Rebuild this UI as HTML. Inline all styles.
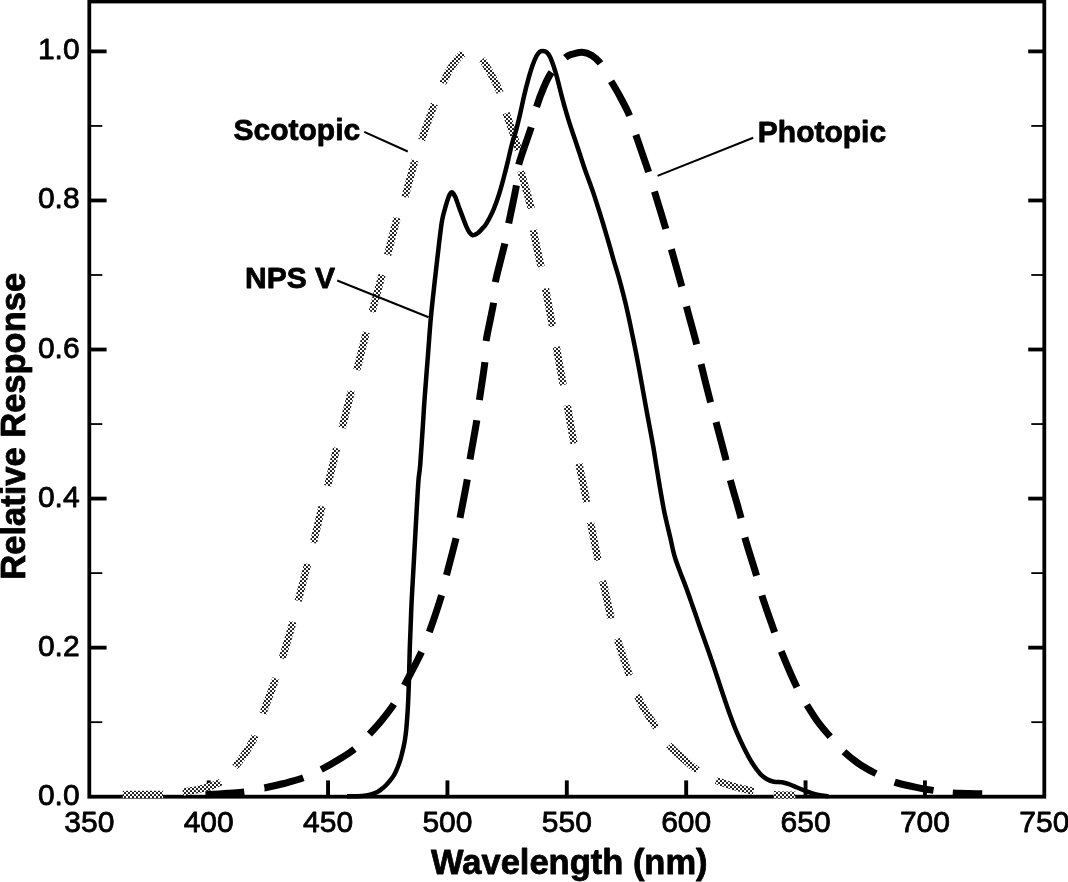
<!DOCTYPE html>
<html><head><meta charset="utf-8"><title>Relative Response vs Wavelength</title>
<style>
html,body{margin:0;padding:0;background:#fff;}
body{width:1068px;height:882px;overflow:hidden;}
svg{display:block;filter:grayscale(1);}
text{font-family:"Liberation Sans",sans-serif;fill:#000;stroke:#000;stroke-width:0.8px;stroke-linejoin:round;}
.tick{font-size:30px;}
.b{font-weight:bold;}
</style></head>
<body>
<svg width="1068" height="882" viewBox="0 0 1068 882">
<defs>
<pattern id="chk" x="0" y="0" width="4" height="4" patternUnits="userSpaceOnUse">
<rect width="4" height="4" fill="#fff"/><rect x="0.05" y="0.05" width="1.9" height="1.9" rx="0.35" fill="#000"/><rect x="2.05" y="2.05" width="1.9" height="1.9" rx="0.35" fill="#000"/>
</pattern>
</defs>
<rect width="1068" height="882" fill="#fff"/>
<g stroke="#000" fill="none">
<rect x="89.3" y="1.5" width="955.0" height="795.2" stroke-width="3.8"/>
<line x1="89.30" y1="722.17" x2="102.30" y2="722.17" stroke-width="1.80"/>
<line x1="1044.30" y1="722.17" x2="1031.30" y2="722.17" stroke-width="1.80"/>
<line x1="89.30" y1="647.64" x2="106.60" y2="647.64" stroke-width="3.80"/>
<line x1="1044.30" y1="647.64" x2="1028.20" y2="647.64" stroke-width="3.80"/>
<line x1="89.30" y1="573.11" x2="102.30" y2="573.11" stroke-width="1.80"/>
<line x1="1044.30" y1="573.11" x2="1031.30" y2="573.11" stroke-width="1.80"/>
<line x1="89.30" y1="498.58" x2="106.60" y2="498.58" stroke-width="3.80"/>
<line x1="1044.30" y1="498.58" x2="1028.20" y2="498.58" stroke-width="3.80"/>
<line x1="89.30" y1="424.05" x2="102.30" y2="424.05" stroke-width="1.80"/>
<line x1="1044.30" y1="424.05" x2="1031.30" y2="424.05" stroke-width="1.80"/>
<line x1="89.30" y1="349.52" x2="106.60" y2="349.52" stroke-width="3.80"/>
<line x1="1044.30" y1="349.52" x2="1028.20" y2="349.52" stroke-width="3.80"/>
<line x1="89.30" y1="274.99" x2="102.30" y2="274.99" stroke-width="1.80"/>
<line x1="1044.30" y1="274.99" x2="1031.30" y2="274.99" stroke-width="1.80"/>
<line x1="89.30" y1="200.46" x2="106.60" y2="200.46" stroke-width="3.80"/>
<line x1="1044.30" y1="200.46" x2="1028.20" y2="200.46" stroke-width="3.80"/>
<line x1="89.30" y1="125.93" x2="102.30" y2="125.93" stroke-width="1.80"/>
<line x1="1044.30" y1="125.93" x2="1031.30" y2="125.93" stroke-width="1.80"/>
<line x1="89.30" y1="51.40" x2="106.60" y2="51.40" stroke-width="3.80"/>
<line x1="1044.30" y1="51.40" x2="1028.20" y2="51.40" stroke-width="3.80"/>
<line x1="208.68" y1="796.70" x2="208.68" y2="780.40" stroke-width="3.90"/>
<line x1="328.05" y1="796.70" x2="328.05" y2="780.40" stroke-width="3.90"/>
<line x1="447.43" y1="796.70" x2="447.43" y2="780.40" stroke-width="3.90"/>
<line x1="566.80" y1="796.70" x2="566.80" y2="780.40" stroke-width="3.90"/>
<line x1="686.17" y1="796.70" x2="686.17" y2="780.40" stroke-width="3.90"/>
<line x1="805.55" y1="796.70" x2="805.55" y2="780.40" stroke-width="3.90"/>
<line x1="924.92" y1="796.70" x2="924.92" y2="780.40" stroke-width="3.90"/>
</g>
<path d="M122.80 794.30C129.50 794.30 153.00 794.67 163.00 794.30C173.00 793.93 176.30 793.07 182.80 792.10C189.30 791.13 195.68 790.18 202.00 788.50C208.32 786.82 215.20 785.62 220.70 782.00C226.20 778.38 230.78 771.80 235.00 766.80C239.22 761.80 242.63 757.20 246.00 752.00C249.37 746.80 252.40 741.98 255.20 735.60C258.00 729.22 259.35 723.22 262.80 713.70C266.25 704.18 272.68 687.68 275.90 678.50C279.12 669.32 279.25 668.03 282.10 658.60C284.95 649.17 290.32 631.50 293.00 621.90C295.68 612.30 295.75 610.65 298.20 601.00C300.65 591.35 305.17 573.67 307.70 564.00C310.23 554.33 311.00 552.62 313.40 543.00C315.80 533.38 319.73 515.82 322.10 506.30C324.47 496.78 325.17 495.58 327.60 485.90C330.03 476.22 334.28 457.88 336.70 448.20C339.12 438.52 339.65 437.33 342.10 427.80C344.55 418.27 348.95 400.63 351.40 391.00C353.85 381.37 354.32 379.75 356.80 370.00C359.28 360.25 363.77 342.15 366.30 332.50C368.83 322.85 369.37 321.72 372.00 312.10C374.63 302.48 379.50 284.32 382.10 274.80C384.70 265.28 385.08 264.50 387.60 255.00C390.12 245.50 394.33 227.42 397.20 217.80C400.07 208.18 401.85 206.83 404.80 197.30C407.75 187.77 412.10 170.15 414.90 160.60C417.70 151.05 418.35 149.43 421.60 140.00C424.85 130.57 430.85 113.45 434.40 104.00C437.95 94.55 440.02 89.55 442.90 83.30C445.78 77.05 448.32 71.52 451.70 66.50C455.08 61.48 459.82 55.85 463.20 53.20C466.58 50.55 468.88 49.58 472.00 50.60C475.12 51.62 478.70 55.32 481.90 59.30C485.10 63.28 488.18 69.00 491.20 74.50C494.22 80.00 497.52 85.88 500.00 92.30C502.48 98.72 503.05 103.43 506.10 113.00C509.15 122.57 515.82 140.03 518.30 149.70C520.78 159.37 518.87 161.25 521.00 171.00C523.13 180.75 529.05 198.37 531.10 208.20C533.15 218.03 531.65 220.28 533.30 230.00C534.95 239.72 538.98 256.82 541.00 266.50C543.02 276.18 543.48 278.15 545.40 288.10C547.32 298.05 550.68 316.45 552.50 326.20C554.32 335.95 554.53 336.85 556.30 346.60C558.07 356.35 561.28 374.95 563.10 384.70C564.92 394.45 565.38 395.35 567.20 405.10C569.02 414.85 572.05 433.45 574.00 443.20C575.95 452.95 576.78 453.83 578.90 463.60C581.02 473.37 584.77 492.03 586.70 501.80C588.63 511.57 588.60 512.45 590.50 522.20C592.40 531.95 596.07 550.55 598.10 560.30C600.13 570.05 600.52 571.05 602.70 580.70C604.88 590.35 608.80 608.55 611.20 618.20C613.60 627.85 614.07 629.07 617.10 638.60C620.13 648.13 626.08 666.00 629.40 675.40C632.72 684.80 634.23 688.90 637.00 695.00C639.77 701.10 642.80 706.63 646.00 712.00C649.20 717.37 652.38 721.72 656.20 727.20C660.02 732.68 664.43 739.68 668.90 744.90C673.37 750.12 678.23 754.28 683.00 758.50C687.77 762.72 691.98 766.57 697.50 770.20C703.02 773.83 710.02 777.58 716.10 780.30C722.18 783.02 727.82 784.68 734.00 786.50C740.18 788.32 746.63 789.85 753.20 791.20C759.77 792.55 766.38 793.95 773.40 794.60C780.42 795.25 791.65 795.02 795.30 795.10" fill="none" stroke="url(#chk)" stroke-width="7.3" stroke-dasharray="40.20 19.94 39.44 20.95 37.28 23.19 37.56 20.85 38.29 21.54 38.20 21.76 37.72 21.13 38.78 21.10 37.96 21.68 38.68 21.18 38.64 20.55 38.42 21.88 38.07 21.67 38.21 22.38 36.62 22.97 37.71 21.59 38.68 21.52 38.55 21.94 37.31 22.04 38.76 20.75 38.70 20.81 38.70 20.98 38.99 20.75 38.85 20.91 38.45 21.24 38.80 21.03 37.56 21.80 38.26 21.19 38.73 20.50 21.91 1000.00"/>
<path d="M205.50 794.70C211.97 794.23 234.47 793.03 244.30 791.90C254.13 790.77 257.88 789.30 264.50 787.90C271.12 786.50 277.53 785.18 284.00 783.50C290.47 781.82 297.10 780.13 303.30 777.80C309.50 775.47 315.42 772.47 321.20 769.50C326.98 766.53 332.47 763.40 338.00 760.00C343.53 756.60 349.17 753.42 354.40 749.10C359.63 744.78 364.80 738.95 369.40 734.10C374.00 729.25 377.92 724.98 382.00 720.00C386.08 715.02 390.18 709.95 393.90 704.20C397.62 698.45 399.70 694.20 404.30 685.50C408.90 676.80 417.33 660.90 421.50 652.00C425.67 643.10 425.97 641.53 429.30 632.10C432.63 622.67 438.63 604.87 441.50 595.40C444.37 585.93 444.08 584.82 446.50 575.30C448.92 565.78 453.75 547.87 456.00 538.30C458.25 528.73 458.12 527.72 460.00 517.90C461.88 508.08 465.63 489.15 467.30 479.40C468.97 469.65 468.42 469.23 470.00 459.40C471.58 449.57 475.23 430.30 476.80 420.40C478.37 410.50 478.05 409.70 479.40 400.00C480.75 390.30 483.78 372.03 484.90 362.20C486.02 352.37 484.65 350.90 486.10 341.00C487.55 331.10 492.07 312.58 493.60 302.80C495.13 293.02 493.43 292.17 495.30 282.30C497.17 272.43 502.57 253.42 504.80 243.60C507.03 233.78 506.77 233.08 508.70 223.40C510.63 213.72 514.73 195.27 516.40 185.50C518.07 175.73 516.23 174.50 518.70 164.80C521.17 155.10 528.23 136.93 531.20 127.30C534.17 117.67 534.45 113.55 536.50 107.00C538.55 100.45 541.00 93.77 543.50 88.00C546.00 82.23 547.88 77.43 551.50 72.40C555.12 67.37 561.62 60.87 565.20 57.80C568.78 54.73 570.20 54.92 573.00 54.00C575.80 53.08 578.92 52.10 582.00 52.30C585.08 52.50 588.45 53.38 591.50 55.20C594.55 57.02 597.05 58.90 600.30 63.20C603.55 67.50 607.63 75.28 611.00 81.00C614.37 86.72 617.42 91.75 620.50 97.50C623.58 103.25 626.95 109.28 629.50 115.50C632.05 121.72 632.63 125.43 635.80 134.80C638.97 144.17 645.40 162.28 648.50 171.70C651.60 181.12 651.53 181.82 654.40 191.30C657.27 200.78 662.88 218.98 665.70 228.60C668.52 238.22 668.63 239.40 671.30 249.00C673.97 258.60 679.18 276.68 681.70 286.20C684.22 295.72 683.92 296.45 686.40 306.10C688.88 315.75 694.17 334.45 696.60 344.10C699.03 353.75 698.68 354.35 701.00 364.00C703.32 373.65 708.00 392.33 710.50 402.00C713.00 411.67 713.42 412.33 716.00 422.00C718.58 431.67 723.62 450.35 726.00 460.00C728.38 469.65 727.80 470.25 730.30 479.90C732.80 489.55 738.58 508.33 741.00 517.90C743.42 527.47 742.22 527.70 744.80 537.30C747.38 546.90 753.67 565.83 756.50 575.50C759.33 585.17 758.80 585.88 761.80 595.30C764.80 604.72 771.27 622.68 774.50 632.00C777.73 641.32 777.48 642.02 781.20 651.20C784.92 660.38 792.53 678.17 796.80 687.10C801.07 696.03 803.27 698.98 806.80 704.80C810.33 710.62 814.13 716.72 818.00 722.00C821.87 727.28 825.70 731.57 830.00 736.50C834.30 741.43 839.05 747.10 843.80 751.60C848.55 756.10 853.17 759.85 858.50 763.50C863.83 767.15 869.82 770.42 875.80 773.50C881.78 776.58 888.03 779.78 894.40 782.00C900.77 784.22 907.53 785.40 914.00 786.80C920.47 788.20 926.78 789.37 933.20 790.40C939.62 791.43 944.33 792.43 952.50 793.00C960.67 793.57 977.25 793.67 982.20 793.80" fill="none" stroke="#000" stroke-width="7.0" stroke-dasharray="38.90 20.61 40.13 19.74 39.02 21.23 38.71 21.41 37.66 21.39 38.68 20.72 38.20 20.79 39.19 20.19 39.59 20.57 38.20 21.26 38.93 20.60 39.85 20.58 38.68 20.88 39.54 20.99 37.83 20.06 40.01 20.78 39.18 20.31 39.02 20.47 38.97 21.16 38.63 20.45 39.35 20.38 39.17 20.74 39.29 20.36 39.48 19.79 39.95 20.50 38.84 20.34 39.15 20.34 39.36 20.46 38.93 20.47 39.73 19.48 29.71 1000.00"/>
<path d="M347.00 796.30C349.50 796.25 358.17 796.25 362.00 796.00C365.83 795.75 367.53 795.42 370.00 794.80C372.47 794.18 374.80 793.30 376.80 792.30C378.80 791.30 380.43 790.02 382.00 788.80C383.57 787.58 384.87 786.35 386.20 785.00C387.53 783.65 388.75 782.27 390.00 780.70C391.25 779.13 392.67 777.25 393.70 775.60C394.73 773.95 395.42 772.52 396.20 770.80C396.98 769.08 397.70 767.18 398.40 765.30C399.10 763.42 399.78 761.53 400.40 759.50C401.02 757.47 401.57 755.22 402.10 753.10C402.63 750.98 403.13 748.98 403.60 746.80C404.07 744.62 404.47 742.80 404.90 740.00C405.33 737.20 405.83 733.50 406.20 730.00C406.57 726.50 406.80 723.17 407.10 719.00C407.40 714.83 407.72 710.67 408.00 705.00C408.28 699.33 408.52 694.00 408.80 685.00C409.08 676.00 409.42 660.17 409.70 651.00C409.98 641.83 410.17 638.50 410.50 630.00C410.83 621.50 411.12 611.88 411.70 600.00C412.28 588.12 413.20 573.13 414.00 558.70C414.80 544.27 415.75 526.52 416.50 513.40C417.25 500.28 417.88 488.07 418.50 480.00C419.12 471.93 419.47 474.17 420.20 465.00C420.93 455.83 422.18 435.83 422.90 425.00C423.62 414.17 423.65 411.72 424.50 400.00C425.35 388.28 426.93 368.48 428.00 354.70C429.07 340.92 429.75 329.78 430.90 317.30C432.05 304.82 433.62 291.45 434.90 279.80C436.18 268.15 437.42 257.23 438.60 247.40C439.78 237.57 440.87 227.50 442.00 220.80C443.13 214.10 444.32 211.13 445.40 207.20C446.48 203.27 447.67 199.48 448.50 197.20C449.33 194.92 449.87 194.32 450.40 193.50C450.93 192.68 451.20 192.28 451.70 192.30C452.20 192.32 452.75 192.70 453.40 193.60C454.05 194.50 454.67 195.43 455.60 197.70C456.53 199.97 457.75 203.80 459.00 207.20C460.25 210.60 461.85 214.82 463.10 218.10C464.35 221.38 465.48 224.55 466.50 226.90C467.52 229.25 468.18 230.82 469.20 232.20C470.22 233.58 471.38 234.90 472.60 235.20C473.82 235.50 475.32 234.65 476.50 234.00C477.68 233.35 478.62 232.33 479.70 231.30C480.78 230.27 481.87 229.13 483.00 227.80C484.13 226.47 484.97 225.83 486.50 223.30C488.03 220.77 490.50 216.28 492.20 212.60C493.90 208.92 495.28 205.17 496.70 201.20C498.12 197.23 499.47 192.95 500.70 188.80C501.93 184.65 503.05 180.28 504.10 176.30C505.15 172.32 506.03 168.87 507.00 164.90C507.97 160.93 508.90 156.65 509.90 152.50C510.90 148.35 512.07 143.33 513.00 140.00C513.93 136.67 514.33 136.77 515.50 132.50C516.67 128.23 518.58 120.45 520.00 114.40C521.42 108.35 522.67 101.87 524.00 96.20C525.33 90.53 526.58 85.50 528.00 80.40C529.42 75.30 531.08 69.67 532.50 65.60C533.92 61.53 535.27 58.30 536.50 56.00C537.73 53.70 538.87 52.65 539.90 51.80C540.93 50.95 541.57 50.83 542.70 50.90C543.83 50.97 545.47 51.18 546.70 52.20C547.93 53.22 549.10 55.10 550.10 57.00C551.10 58.90 551.88 61.35 552.70 63.60C553.52 65.85 554.25 68.08 555.00 70.50C555.75 72.92 556.07 73.80 557.20 78.10C558.33 82.40 560.28 90.55 561.80 96.30C563.32 102.05 564.80 107.47 566.30 112.60C567.80 117.73 569.28 122.42 570.80 127.10C572.32 131.78 573.88 136.17 575.40 140.70C576.92 145.23 578.40 149.75 579.90 154.30C581.40 158.85 582.88 163.60 584.40 168.00C585.92 172.40 587.48 176.47 589.00 180.70C590.52 184.93 591.92 188.70 593.50 193.40C595.08 198.10 596.73 203.30 598.50 208.90C600.27 214.50 602.37 221.25 604.10 227.00C605.83 232.75 607.32 237.90 608.90 243.40C610.48 248.90 611.92 254.22 613.60 260.00C615.28 265.78 617.30 272.05 619.00 278.10C620.70 284.15 622.28 290.25 623.80 296.30C625.32 302.35 626.75 308.35 628.10 314.40C629.45 320.45 630.43 325.45 631.90 332.60C633.37 339.75 635.23 348.62 636.90 357.30C638.57 365.98 640.32 375.97 641.90 384.70C643.48 393.43 644.95 401.80 646.40 409.70C647.85 417.60 649.42 425.72 650.60 432.10C651.78 438.48 652.57 442.52 653.50 448.00C654.43 453.48 655.13 458.43 656.20 465.00C657.27 471.57 658.53 479.50 659.90 487.40C661.27 495.30 662.68 504.08 664.40 512.40C666.12 520.72 668.73 530.87 670.20 537.30C671.67 543.73 672.30 547.30 673.20 551.00C674.10 554.70 674.47 556.05 675.60 559.50C676.73 562.95 678.22 566.93 680.00 571.70C681.78 576.47 684.18 582.35 686.30 588.10C688.42 593.85 690.58 600.15 692.70 606.20C694.82 612.25 696.88 618.35 699.00 624.40C701.12 630.45 703.28 636.48 705.40 642.50C707.52 648.52 709.57 654.25 711.70 660.50C713.83 666.75 716.22 674.03 718.20 680.00C720.18 685.97 721.68 690.63 723.60 696.30C725.52 701.97 727.55 708.10 729.70 714.00C731.85 719.90 734.12 726.03 736.50 731.70C738.88 737.37 741.38 742.78 744.00 748.00C746.62 753.22 749.48 758.68 752.20 763.00C754.92 767.32 757.82 771.18 760.30 773.90C762.78 776.62 764.83 777.98 767.10 779.30C769.37 780.62 771.40 781.30 773.90 781.80C776.40 782.30 779.60 781.92 782.10 782.30C784.60 782.68 786.40 783.23 788.90 784.10C791.40 784.97 794.38 786.37 797.10 787.50C799.82 788.63 802.48 789.88 805.20 790.90C807.92 791.92 810.67 792.85 813.40 793.60C816.13 794.35 819.10 794.95 821.60 795.40C824.10 795.85 827.27 796.15 828.40 796.30" fill="none" stroke="#000" stroke-width="4.5" stroke-linejoin="round"/>
<g stroke="#000" stroke-width="2" fill="none">
<line x1="364.2" y1="131.8" x2="407.8" y2="151.5"/>
<line x1="753.2" y1="137.7" x2="657.5" y2="175.9"/>
<line x1="337.2" y1="280.5" x2="428.6" y2="317.2"/>
</g>
<g class="tick">
<text x="79.6" y="804.70" text-anchor="end">0.0</text>
<text x="79.6" y="655.64" text-anchor="end">0.2</text>
<text x="79.6" y="506.58" text-anchor="end">0.4</text>
<text x="79.6" y="357.52" text-anchor="end">0.6</text>
<text x="79.6" y="208.46" text-anchor="end">0.8</text>
<text x="79.6" y="59.40" text-anchor="end">1.0</text>
<text x="89.30" y="831.80" text-anchor="middle">350</text>
<text x="208.68" y="831.80" text-anchor="middle">400</text>
<text x="328.05" y="831.80" text-anchor="middle">450</text>
<text x="447.43" y="831.80" text-anchor="middle">500</text>
<text x="566.80" y="831.80" text-anchor="middle">550</text>
<text x="686.17" y="831.80" text-anchor="middle">600</text>
<text x="805.55" y="831.80" text-anchor="middle">650</text>
<text x="924.92" y="831.80" text-anchor="middle">700</text>
<text x="1044.30" y="831.80" text-anchor="middle">750</text>
</g>
<g class="b" font-size="30">
<text x="233.5" y="140.0">Scotopic</text>
<text x="757.8" y="141.9">Photopic</text>
<text x="245.1" y="288.3">NPS V</text>
</g>
<g class="b" font-size="34.5">
<text x="569.3" y="874.3" text-anchor="middle">Wavelength (nm)</text>
<text transform="translate(24.7 426.3) rotate(-90)" text-anchor="middle">Relative Response</text>
</g>
</svg>
</body></html>
